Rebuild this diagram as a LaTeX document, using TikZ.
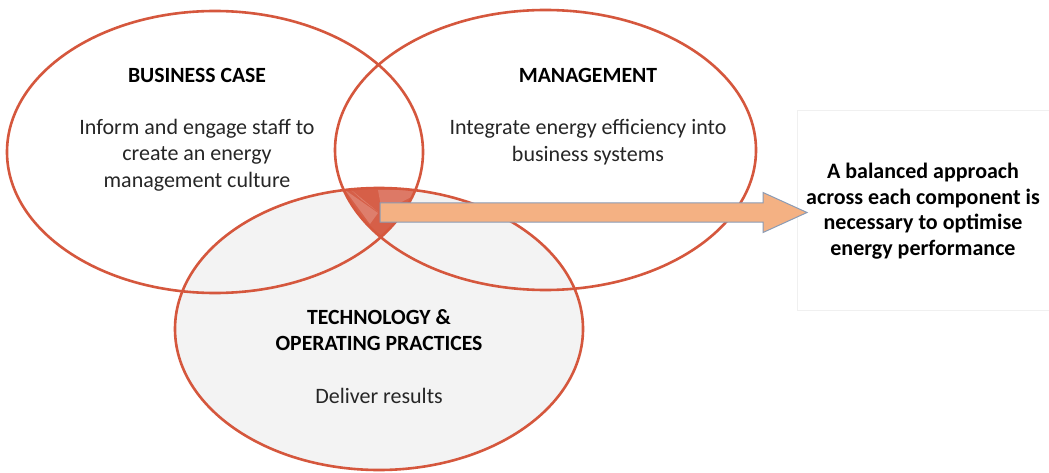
\documentclass[tikz,border=0pt]{standalone}
\usepackage{fontspec}
\setmainfont{Carlito}
\definecolor{ring}{HTML}{D5573D}
\definecolor{techbg}{HTML}{F3F3F3}
\definecolor{core}{HTML}{D65F48}
\definecolor{corelight}{HTML}{E49485}
\definecolor{arrowfill}{HTML}{F4B183}
\definecolor{arrowline}{HTML}{8A9BB5}
\definecolor{bodytext}{HTML}{262626}
\definecolor{panelline}{HTML}{F0F0F0}
\begin{document}
\begin{tikzpicture}[x=1pt,y=-1pt,
  ringline/.style={draw=ring,line width=2.6pt},
  title/.style={font=\fontsize{21.7}{26}\selectfont\bfseries,text=black,align=center,inner sep=0pt},
  body/.style={font=\fontsize{22}{26.5}\selectfont,text=bodytext,align=center,inner sep=0pt},
  blockarrow/.style={fill=arrowfill,draw=arrowline,line width=1pt,line join=miter}]
\useasboundingbox (0,0) rectangle (1049,473);
\fill[white] (0,0) rectangle (1049,473);

% summary panel on the right
\draw[panelline,line width=0.8pt,fill=white] (797,110) rectangle (1060,310);
\node[title,font=\fontsize{22}{25.7}\selectfont\bfseries] (summary) at (923,211)
  {A balanced approach\\across each component is\\necessary to optimise\\energy performance};

% technology circle background
\fill[techbg] (379,329) ellipse [x radius=204, y radius=141];

% triple overlap in the middle
\begin{scope}
  \clip (215,152) ellipse [x radius=208, y radius=141];
  \clip (545.5,150) ellipse [x radius=210.5, y radius=140];
  \clip (379,329) ellipse [x radius=204, y radius=141];
  \fill[core] (300,150) rectangle (460,260);
  \fill[corelight,opacity=0.6] (350,189) -- (378,212) -- (362,200) -- cycle;
  \fill[corelight,opacity=0.6] (345,190) -- (378,213) -- (370,224) -- cycle;
  \fill[corelight,opacity=0.5] (378,190) -- (425,190) -- (382,212) -- cycle;
\end{scope}

% circle outlines
\draw[ringline] (215,152) ellipse [x radius=208, y radius=141];
\draw[ringline] (545.5,150) ellipse [x radius=210.5, y radius=140];
\draw[ringline] (379,329) ellipse [x radius=204, y radius=141];

% block arrow from the overlap to the summary
\coordinate (tail) at (380,212.5);
\coordinate (tip) at (807,212.5);
\draw[blockarrow] ([yshift=-9.5pt]tail) -- ([xshift=-44pt,yshift=-9.5pt]tip)
  -- ([xshift=-44pt,yshift=-20pt]tip) -- (tip)
  -- ([xshift=-44pt,yshift=20pt]tip) -- ([xshift=-44pt,yshift=9.5pt]tip)
  -- ([yshift=9.5pt]tail) -- cycle;

% labels
\node[title] (bcTitle) at (197,75) {BUSINESS CASE};
\node[body] (bcText) at (197,155) {Inform and engage staff to\\create an energy\\management culture};
\node[title] (mgTitle) at (588,75) {MANAGEMENT};
\node[body] (mgText) at (588,142) {Integrate energy efficiency into\\business systems};
\node[title,font=\fontsize{21.7}{25.5}\selectfont\bfseries] (tcTitle) at (379,330) {TECHNOLOGY \&\\OPERATING PRACTICES};
\node[body] (tcText) at (379,396) {Deliver results};
\end{tikzpicture}
\end{document}
